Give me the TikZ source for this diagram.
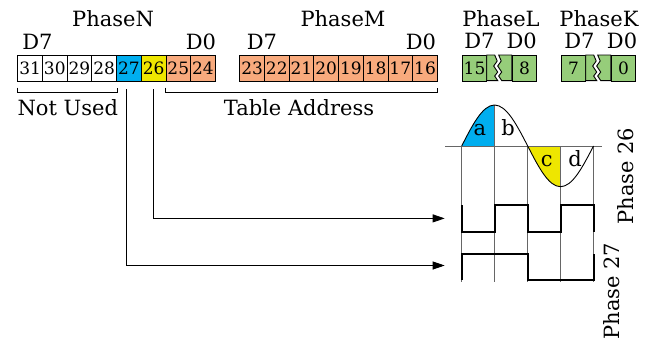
\documentclass[tikz,border=0pt]{standalone}
\usepackage{fontspec}
\setmainfont{DejaVu Serif}
\usetikzlibrary{arrows.meta,calc}
\definecolor{cblue}{RGB}{0,174,239}
\definecolor{cyel}{RGB}{238,230,0}
\definecolor{corange}{RGB}{248,170,125}
\definecolor{cgreen}{RGB}{150,205,122}
\begin{document}
\begin{tikzpicture}[x=1pt,y=-1pt,
  cell/.style={draw,line width=0.9pt,minimum width=24.7pt,minimum height=25.6pt,inner sep=0pt,anchor=north west,font=\fontsize{17}{17}\selectfont},
  lbl/.style={font=\fontsize{21}{25}\selectfont,inner sep=0pt,anchor=base},
  conn/.style={line width=0.8pt,-{Triangle[length=12pt,width=8pt]}},
  gridline/.style={line width=0.8pt,draw=black!60},
  wave/.style={line width=2pt,line join=miter},
  brk/.style={draw,line width=0.9pt,fill=cgreen,line join=miter},
  brace/.style={line width=0.8pt}]
\useasboundingbox (0,0) rectangle (656,340);
% PhaseN cells
\node[cell,fill=white] (c31) at (17.3,55) {31};
\node[cell,fill=white] (c30) at (42.0,55) {30};
\node[cell,fill=white] (c29) at (66.7,55) {29};
\node[cell,fill=white] (c28) at (91.4,55) {28};
\node[cell,fill=cblue] (c27) at (116.1,55) {27};
\node[cell,fill=cyel] (c26) at (140.8,55) {26};
\node[cell,fill=corange] (c25) at (165.5,55) {25};
\node[cell,fill=corange] (c24) at (190.2,55) {24};
% PhaseM cells
\foreach \n [count=\i from 0] in {23,22,21,20,19,18,17,16}
  \node[cell,fill=corange] (c\n) at (239.3+24.7*\i,55) {\n};
% PhaseL / PhaseK cells
\node[cell,fill=cgreen] (l15) at (461.7,55) {15};
\node[cell,fill=cgreen] (l8) at (511.7,55) {8};
\node[cell,fill=cgreen] (k7) at (560.7,55) {7};
\node[cell,fill=cgreen] (k0) at (610.7,55) {0};
\foreach \x in {486.7,585.7}{
  \begin{scope}[shift={(\x,55)}]
    \draw[brk] (0,0) -- (8,0) -- (10.5,6) -- (7,11) -- (11,17) -- (8,21) -- (11,25.6) -- (0,25.6) -- cycle;
    \draw[brk] (12,0) -- (14.5,6) -- (11,11) -- (15,17) -- (12,21) -- (15,25.6) -- (25,25.6) -- (25,0) -- cycle;
  \end{scope}}
% labels
\node[lbl] (pn) at (113,26) {PhaseN};
\node[lbl] (nd7) at (37.5,49) {D7};
\node[lbl] (nd0) at (201,49) {D0};
\node[lbl] (pm) at (343,26) {PhaseM};
\node[lbl] (md7) at (262,49) {D7};
\node[lbl] (md0) at (421,49) {D0};
\node[lbl] (pl) at (501,26) {PhaseL};
\node[lbl] (ld7) at (479.5,48.5) {D7};
\node[lbl] (ld0) at (521.7,48.5) {D0};
\node[lbl] (pk) at (599,26) {PhaseK};
\node[lbl] (kd7) at (579.5,48.5) {D7};
\node[lbl] (kd0) at (622,48.5) {D0};
% brackets
\draw[brace] ($(c31.south west)+(0,6)$) -- ++(0,5) -| ($(c28.south east)+(0,6)$);
\draw[brace] ($(c25.south west)+(0,6)$) -- ++(0,5) -| ($(c16.south east)+(0,6)$);
\node[lbl,anchor=base west] (nu) at (17.3,115) {Not Used};
\node[lbl] (ta) at (299,115) {Table Address};
% connectors
\coordinate (s27) at ($(c27.south)+(-3,7.5)$);
\coordinate (t27) at (444.7,265.5);
\draw[conn] (s27) |- (t27);
\coordinate (s26) at ($(c26.south)+(-0.5,7.5)$);
\coordinate (t26) at (444.7,218.4);
\draw[conn] (s26) |- (t26);
% sine
\fill[cblue] (461.7,146) sin (494.5,105) -- (494.5,146) -- cycle;
\fill[cyel] (527.7,146) sin (560.5,186.7) -- (560.5,146) -- cycle;
\draw[gridline] (445,146) -- (602,146);
\draw[gridline] (461.7,146) -- (461.7,282);
\draw[gridline] (494.5,105) -- (494.5,282);
\draw[gridline] (527.7,146) -- (527.7,282);
\draw[gridline] (560.5,146) -- (560.5,282);
\draw[gridline] (593.5,146) -- (593.5,282);
\draw[line width=0.9pt] (461.7,146) sin (494.5,105) cos (527.7,146) sin (560.5,186.7) cos (593.5,146);
\node[lbl] (la) at (480,135.7) {a};
\node[lbl] (lb) at (508,135.7) {b};
\node[lbl] (lc) at (546.7,166) {c};
\node[lbl] (ld) at (575,166) {d};
% square waves
\draw[wave] (461.7,205) -- (461.7,231.5) -- (494.5,231.5) -- (494.5,205) -- (527.7,205) -- (527.7,231.5) -- (560.5,231.5) -- (560.5,205) -- (593.5,205) -- (593.5,231.5);
\draw[wave] (461.7,280) -- (461.7,253.8) -- (527.7,253.8) -- (527.7,280) -- (593.5,280) -- (593.5,253.8);
\node[lbl,rotate=90,anchor=center] (p26) at (626,176) {Phase 26};
\node[lbl,rotate=90,anchor=center] (p27) at (612,291) {Phase 27};
\end{tikzpicture}
\end{document}
